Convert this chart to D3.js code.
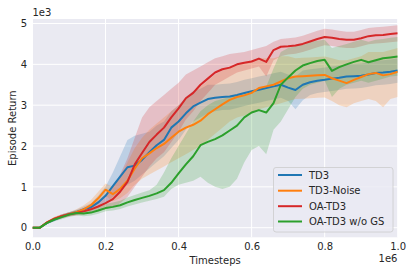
<!DOCTYPE html>
<html><head><meta charset="utf-8">
<script src="https://cdn.jsdelivr.net/npm/d3@7"></script>
<style>body{margin:0;background:#fff}svg{display:block}text{font-family:"DejaVu Sans",sans-serif;fill:#262626}</style>
</head><body><svg id="c" width="414" height="274"></svg>
<script>
// Timesteps (x 1e6), 0.02 spacing
const steps = d3.range(0, 51).map(i => +(i * 0.02).toFixed(2));
const xTicks = [0, 0.2, 0.4, 0.6, 0.8, 1.0];
const yTicks = [0, 1, 2, 3, 4, 5];
const seriesNames = ["TD3", "TD3-Noise", "OA-TD3", "OA-TD3 w/o GS"];
const seriesColors = ["#1f77b4", "#ff7f0e", "#d62728", "#2ca02c"];

// Episode Return (x 1e3)
const td3Mean = [0,0,0.12,0.2,0.28,0.33,0.38,0.45,0.5,0.62,0.78,1.02,1.25,1.48,1.52,1.66,1.85,2.02,2.15,2.45,2.6,2.8,2.97,3.06,3.15,3.18,3.2,3.21,3.25,3.3,3.34,3.38,3.42,3.46,3.5,3.43,3.37,3.5,3.56,3.6,3.62,3.65,3.67,3.7,3.71,3.72,3.75,3.79,3.8,3.82,3.85];
const td3Low  = [0,0,0.09,0.16,0.23,0.28,0.32,0.38,0.42,0.5,0.6,0.75,0.9,1.05,1.15,1.3,1.45,1.6,1.75,1.95,2.15,2.4,2.6,2.7,2.8,2.85,2.88,2.89,2.93,2.98,3.02,3.06,3.1,3.14,3.18,3.1,2.9,3.12,3.25,3.3,3.32,3.35,3.37,3.4,3.41,3.42,3.45,3.49,3.5,3.52,3.55];
const td3High = [0,0,0.15,0.24,0.33,0.38,0.44,0.52,0.6,0.78,1.0,1.35,1.75,2.15,2.25,2.3,2.35,2.5,2.6,2.85,3.0,3.2,3.35,3.4,3.5,3.5,3.52,3.53,3.57,3.62,3.66,3.7,3.74,3.78,3.82,3.75,3.7,3.85,3.88,3.9,3.92,3.95,3.97,4.0,4.01,4.02,4.05,4.09,4.1,4.12,4.15];

const noiseMean = [0,0,0.13,0.22,0.28,0.33,0.38,0.45,0.55,0.72,0.93,0.82,0.95,1.15,1.45,1.7,1.82,1.95,2.05,2.2,2.35,2.45,2.52,2.62,2.78,2.9,3.02,3.13,3.2,3.24,3.3,3.42,3.46,3.5,3.58,3.66,3.7,3.71,3.72,3.73,3.74,3.66,3.6,3.54,3.62,3.69,3.76,3.79,3.73,3.76,3.82];
const noiseLow  = [0,0,0.1,0.18,0.23,0.28,0.32,0.38,0.45,0.58,0.78,0.65,0.72,0.85,1.05,1.2,1.3,1.4,1.5,1.6,1.7,1.8,1.9,2.0,2.15,2.3,2.45,2.6,2.7,2.75,2.8,2.9,2.95,3.0,3.05,3.1,3.15,3.16,3.17,3.18,3.19,3.1,3.0,2.95,3.05,3.1,3.15,3.1,2.95,3.15,3.2];
const noiseHigh = [0,0,0.16,0.26,0.33,0.38,0.45,0.55,0.68,0.88,1.08,1.0,1.25,1.6,1.95,2.2,2.4,2.55,2.7,2.85,3.0,3.15,3.3,3.45,3.6,3.75,3.85,3.95,4.0,4.05,4.1,4.15,4.15,4.15,4.2,4.2,4.15,4.16,4.17,4.18,4.19,4.15,4.1,4.1,4.15,4.2,4.3,4.3,4.3,4.35,4.4];

const oaMean = [0,0,0.13,0.22,0.28,0.33,0.36,0.4,0.45,0.52,0.6,0.7,0.88,1.12,1.55,1.83,2.1,2.28,2.45,2.7,2.92,3.17,3.3,3.5,3.65,3.8,3.88,3.92,4.0,4.04,4.07,4.14,4.06,4.35,4.43,4.44,4.46,4.5,4.56,4.62,4.67,4.65,4.62,4.6,4.6,4.64,4.69,4.71,4.72,4.74,4.76];
const oaLow  = [0,0,0.1,0.18,0.23,0.28,0.3,0.33,0.36,0.4,0.45,0.5,0.6,0.75,1.0,1.25,1.5,1.7,1.85,2.1,2.35,2.65,2.85,3.1,3.3,3.5,3.6,3.7,3.8,3.85,3.9,3.95,3.7,4.1,4.2,4.24,4.26,4.3,4.36,4.42,4.47,4.45,4.42,4.4,4.4,4.44,4.49,4.51,4.52,4.54,4.56];
const oaHigh = [0,0,0.16,0.26,0.33,0.38,0.42,0.48,0.55,0.66,0.8,0.98,1.3,1.7,2.2,2.7,2.95,3.1,3.25,3.4,3.55,3.75,3.85,3.95,4.05,4.15,4.2,4.25,4.28,4.3,4.35,4.4,4.45,4.55,4.62,4.64,4.66,4.7,4.76,4.82,4.87,4.85,4.82,4.8,4.8,4.84,4.89,4.91,4.92,4.94,4.96];

const noGsMean = [0,0,0.12,0.2,0.26,0.32,0.36,0.35,0.37,0.42,0.48,0.51,0.55,0.62,0.68,0.73,0.78,0.84,0.92,1.1,1.33,1.55,1.75,2.02,2.1,2.17,2.26,2.38,2.5,2.7,2.82,2.88,2.82,3.05,3.5,3.68,3.85,3.97,4.03,4.08,4.11,3.84,3.93,4.0,4.06,4.11,4.05,4.1,4.15,4.17,4.19];
const noGsLow  = [0,0,0.09,0.16,0.21,0.26,0.3,0.28,0.3,0.34,0.4,0.42,0.46,0.52,0.57,0.62,0.66,0.7,0.76,0.95,1.05,1.1,1.15,1.25,1.1,1.0,0.95,1.0,1.2,1.6,1.9,2.0,1.8,2.4,2.6,2.9,3.2,3.4,3.5,3.55,3.6,3.2,3.4,3.5,3.55,3.6,3.55,3.6,3.65,3.7,3.72];
const noGsHigh = [0,0,0.15,0.24,0.31,0.38,0.42,0.42,0.45,0.5,0.58,0.62,0.66,0.74,0.8,0.86,0.92,1.05,1.35,1.7,2.0,2.3,2.6,2.85,3.0,3.1,3.15,3.2,3.25,3.3,3.35,3.4,3.45,3.9,4.3,4.4,4.45,4.5,4.55,4.58,4.6,4.4,4.45,4.5,4.55,4.6,4.55,4.6,4.62,4.65,4.67];

const series = [
  {mean: td3Mean, low: td3Low, high: td3High},
  {mean: noiseMean, low: noiseLow, high: noiseHigh},
  {mean: oaMean, low: oaLow, high: oaHigh},
  {mean: noGsMean, low: noGsLow, high: noGsHigh}
];

const svg = d3.select("#c");
const m = {l: 32.5, r: 16.3, t: 19, b: 36.7};
const W = 414, H = 274;
const x = d3.scaleLinear().domain([0, 1]).range([m.l, W - m.r]);
const y = d3.scaleLinear().domain([-0.235, 5.11]).range([H - m.b, m.t]);

svg.append("rect").attr("x", m.l).attr("y", m.t).attr("width", W - m.r - m.l).attr("height", H - m.b - m.t).attr("fill", "#eaeaf2");

const g = svg.append("g");
g.selectAll(".gx").data(xTicks).join("line").attr("x1", d => x(d)).attr("x2", d => x(d)).attr("y1", m.t).attr("y2", H - m.b).attr("stroke", "#fff").attr("stroke-width", 1);
g.selectAll(".gy").data(yTicks).join("line").attr("y1", d => y(d)).attr("y2", d => y(d)).attr("x1", m.l).attr("x2", W - m.r).attr("stroke", "#fff").attr("stroke-width", 1);

const clip = svg.append("clipPath").attr("id", "pc").append("rect").attr("x", m.l).attr("y", m.t).attr("width", W - m.r - m.l).attr("height", H - m.b - m.t);
const plot = svg.append("g").attr("clip-path", "url(#pc)");

const area = d3.area().x((d, i) => x(steps[i])).y0(d => y(d[0])).y1(d => y(d[1]));
const line = d3.line().x((d, i) => x(steps[i])).y(d => y(d));

series.forEach((s, k) => {
  plot.append("path").datum(s.low.map((v, i) => [v, s.high[i]])).attr("d", area).attr("fill", seriesColors[k]).attr("fill-opacity", 0.22);
});
series.forEach((s, k) => {
  plot.append("path").datum(s.mean).attr("d", line).attr("fill", "none").attr("stroke", seriesColors[k]).attr("stroke-width", 2).attr("stroke-linejoin", "round");
});

// axes
const xAxis = d3.axisBottom(x).tickValues(xTicks).tickSize(0).tickPadding(0).tickFormat(d3.format(".1f"));
const ax = svg.append("g").attr("transform", `translate(0,${H - m.b})`).call(xAxis);
ax.select(".domain").remove();
ax.selectAll("text").attr("dy", null).attr("y", 13).attr("font-size", 10).attr("fill", "#262626").attr("font-family", "DejaVu Sans");

const yAxis = d3.axisLeft(y).tickValues(yTicks).tickSize(0).tickPadding(0).tickFormat(d3.format("d"));
const ay = svg.append("g").attr("transform", `translate(${m.l},0)`).call(yAxis);
ay.select(".domain").remove();
ay.selectAll("text").attr("x", -5.5).attr("font-size", 10).attr("fill", "#262626").attr("font-family", "DejaVu Sans");

svg.append("text").attr("x", x(0.5)).attr("y", 263.5).attr("text-anchor", "middle").attr("font-size", 10).text("Timesteps");
svg.append("text").attr("transform", `translate(16,${(m.t + H - m.b) / 2}) rotate(-90)`).attr("text-anchor", "middle").attr("font-size", 10).text("Episode Return");
svg.append("text").attr("x", 32.5).attr("y", 16).attr("font-size", 10).text("1e3");
svg.append("text").attr("x", 397.5).attr("y", 262).attr("text-anchor", "end").attr("font-size", 10).text("1e6");

// legend
const lg = svg.append("g");
lg.append("rect").attr("x", 273.5).attr("y", 167.5).attr("width", 119.5).attr("height", 64.5).attr("rx", 2.5).attr("fill", "#eaeaf2").attr("fill-opacity", 0.8).attr("stroke", "#cccccc").attr("stroke-width", 0.8);
const rows = [175, 190.7, 206.2, 221.5];
seriesNames.forEach((n, k) => {
  lg.append("line").attr("x1", 278).attr("x2", 302).attr("y1", rows[k]).attr("y2", rows[k]).attr("stroke", seriesColors[k]).attr("stroke-width", 2);
  lg.append("text").attr("x", 309).attr("y", rows[k] + 3.6).attr("font-size", 10).text(n);
});
</script></body></html>
